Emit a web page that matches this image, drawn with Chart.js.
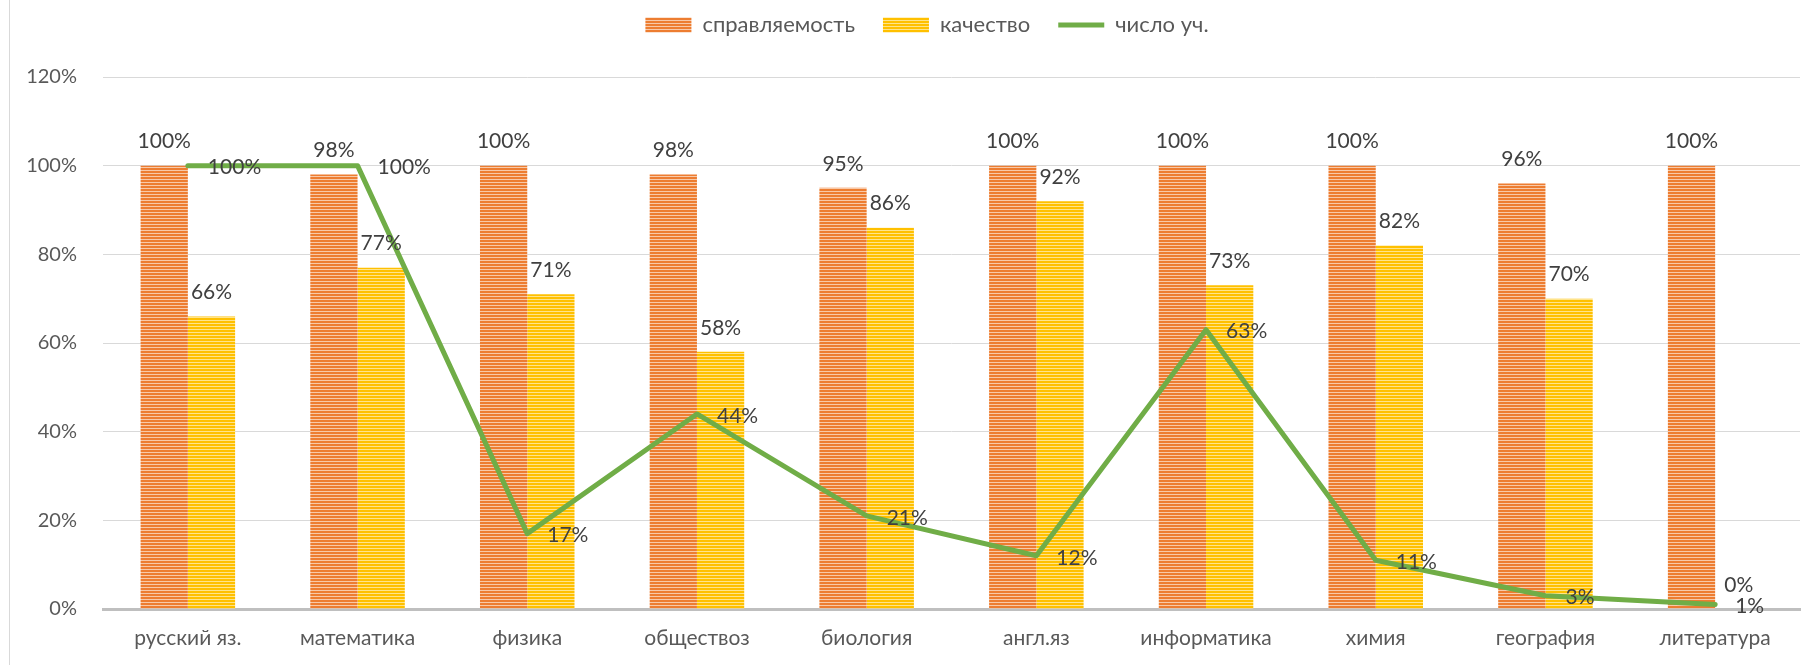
<!DOCTYPE html>
<html lang="ru">
<head>
<meta charset="UTF-8">
<title>Справляемость и качество</title>
<script src="https://cdn.jsdelivr.net/npm/chart.js"></script>
<style>
  html, body { margin: 0; padding: 0; background: #ffffff; }
  #wrap { width: 1807px; height: 665px; position: relative; }
</style>
</head>
<body>
<div id="wrap"><canvas id="chart"></canvas></div>
<script>
// данные
const predmety = ["русский яз.", "математика", "физика", "обществоз", "биология",
  "англ.яз", "информатика", "химия", "география", "литература"];
const spravlyaemost = [100, 98, 100, 98, 95, 100, 100, 100, 96, 100];
const kachestvo = [66, 77, 71, 58, 86, 92, 73, 82, 70, 0];
const chisloUch = [100, 100, 17, 44, 21, 12, 63, 11, 3, 1];
const yMax = 120;
const yStep = 20;

const shrift = { family: "Lato", size: 20 };

// полосатая заливка как в Excel
function polosy(osn, svet) {
  const c = document.createElement("canvas");
  c.width = 4;
  c.height = 3;
  const g = c.getContext("2d");
  g.fillStyle = osn;
  g.fillRect(0, 0, 4, 3);
  g.fillStyle = svet;
  g.fillRect(0, 2, 4, 1);
  return g.createPattern(c, "repeat");
}
const oranzh = polosy("#ED7D31", "#F8C9A8");
const zhelt = polosy("#FFC000", "#FFE48A");

// подписи значений
const podpisi = {
  id: "podpisi",
  afterDatasetsDraw(chart) {
    const ctx = chart.ctx;
    ctx.save();
    ctx.font = "21px Lato";
    ctx.fillStyle = "#404040";
    ctx.textBaseline = "middle";
    chart.data.datasets.forEach((ds, i) => {
      const meta = chart.getDatasetMeta(i);
      meta.data.forEach((el, j) => {
        const txt = ds.data[j] + "%";
        if (meta.type === "bar") {
          ctx.textAlign = "center";
          ctx.fillText(txt, el.x, el.y - 24);
        } else {
          ctx.textAlign = "left";
          ctx.fillText(txt, el.x + 20, el.y + 2);
        }
      });
    });
    ctx.restore();
  }
};

// рамка слева, место под легендой и её сдвиг вправо
const ramka = {
  id: "ramka",
  beforeInit(chart) {
    const lg = chart.legend;
    const fit = lg.fit;
    lg.fit = function () {
      fit.call(this);
      this.height += 31;
    };
    const draw = lg.draw;
    lg.draw = function () {
      this.ctx.save();
      this.ctx.translate(22, 0);
      draw.call(this);
      this.ctx.restore();
    };
  },
  beforeDraw(chart) {
    const ctx = chart.ctx;
    ctx.save();
    ctx.fillStyle = "#D9D9D9";
    ctx.fillRect(9, 0, 1, chart.height);
    ctx.restore();
  }
};

new Chart(document.getElementById("chart"), {
  type: "bar",
  data: {
    labels: predmety,
    datasets: [{
      label: "справляемость",
      data: spravlyaemost,
      backgroundColor: oranzh,
      borderWidth: 0,
      order: 2
    }, {
      label: "качество",
      data: kachestvo,
      backgroundColor: zhelt,
      borderWidth: 0,
      order: 2
    }, {
      type: "line",
      label: "число уч.",
      data: chisloUch,
      borderColor: "#70AD47",
      backgroundColor: "#70AD47",
      borderWidth: 5,
      borderCapStyle: "round",
      borderJoinStyle: "round",
      pointRadius: 0,
      tension: 0,
      order: 1
    }]
  },
  options: {
    responsive: true,
    maintainAspectRatio: false,
    animation: false,
    layout: { padding: { left: 10, right: 7, top: -14, bottom: 6 } },
    datasets: {
      bar: { categoryPercentage: 0.557, barPercentage: 1 }
    },
    plugins: {
      tooltip: { enabled: false },
      legend: {
        position: "top",
        labels: {
          font: { family: "Lato", size: 22 },
          color: "#595959",
          usePointStyle: true,
          pointStyleWidth: 46,
          boxHeight: 15,
          padding: 28,
          sort: (a, b) => a.datasetIndex - b.datasetIndex,
          generateLabels(chart) {
            const items = Chart.defaults.plugins.legend.labels.generateLabels(chart);
            items.forEach(it => {
              it.pointStyle = chart.data.datasets[it.datasetIndex].type === "line" ? "line" : "rect";
            });
            return items;
          }
        }
      }
    },
    scales: {
      x: {
        grid: { display: false },
        border: { color: "#BFBFBF", width: 3 },
        ticks: { font: { family: "Lato", size: 21 }, color: "#595959", padding: 9 },
        afterFit(s) { s.height = 50; }
      },
      y: {
        min: 0,
        max: yMax,
        ticks: {
          stepSize: yStep,
          font: shrift,
          color: "#595959",
          padding: 26,
          callback: v => v + "%"
        },
        grid: { color: "#D9D9D9", lineWidth: 1, drawTicks: false },
        border: { display: false },
        afterFit(s) { s.width = 93; }
      }
    }
  },
  plugins: [ramka, podpisi]
});
</script>
</body>
</html>
